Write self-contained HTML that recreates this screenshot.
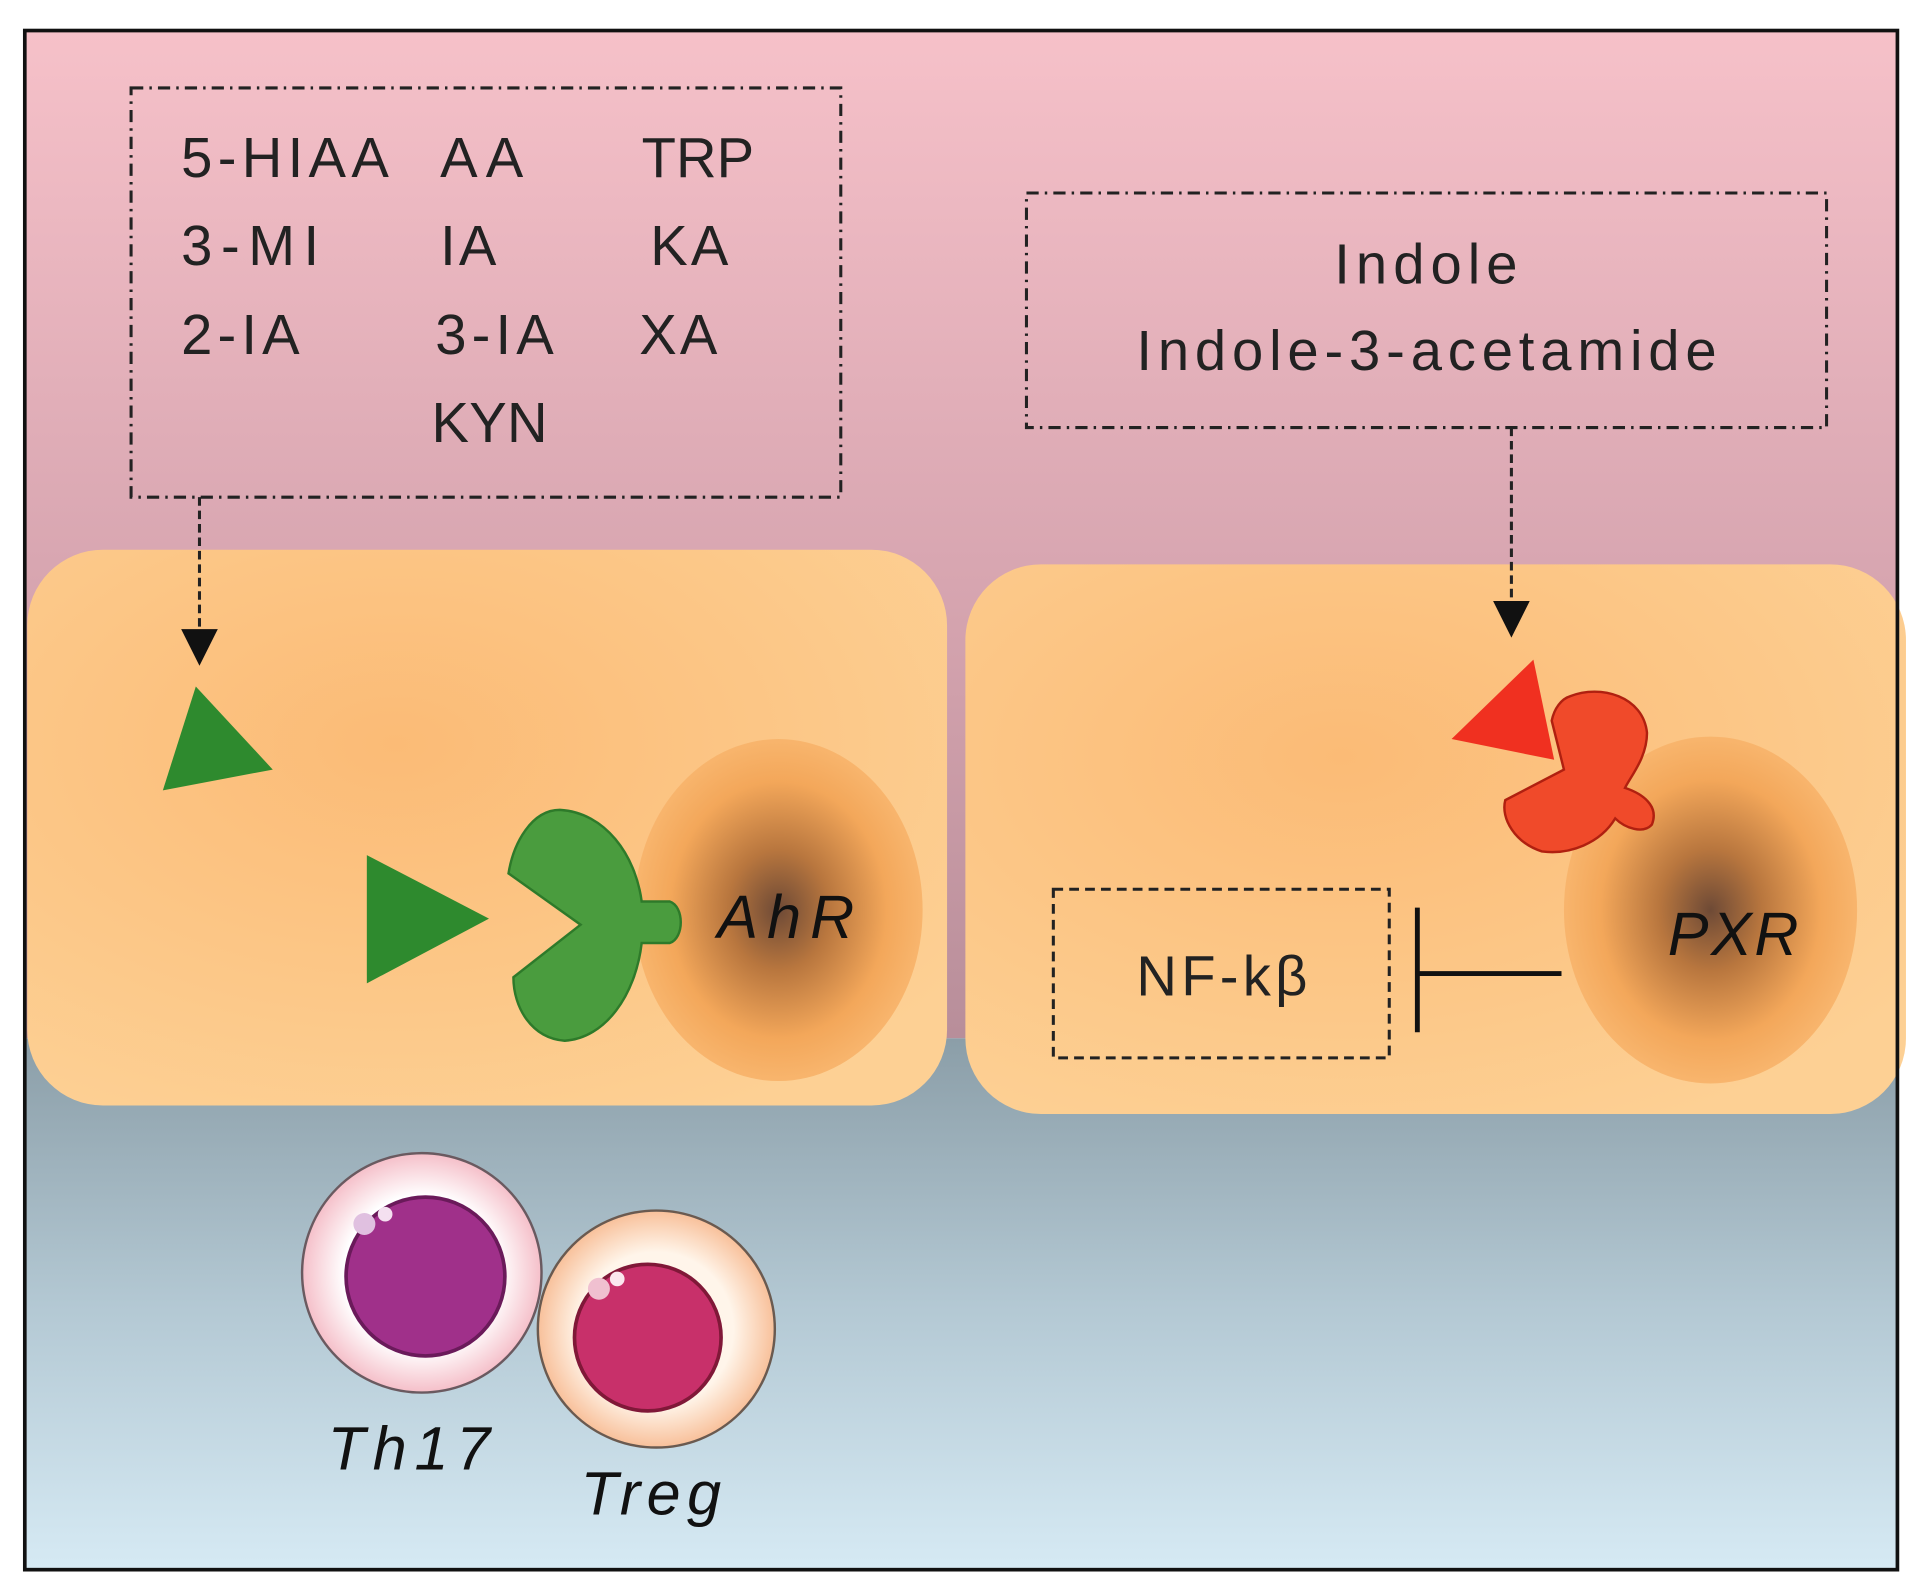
<!DOCTYPE html>
<html><head><meta charset="utf-8"><style>html,body{margin:0;padding:0;background:#fff}svg{display:block}</style></head>
<body>
<svg width="1910" height="1588" viewBox="0 0 1563 1300" xmlns="http://www.w3.org/2000/svg" font-family="Liberation Sans, DejaVu Sans, sans-serif">
<defs>
<linearGradient id="bgTop" x1="0" y1="0" x2="0" y2="1">
<stop offset="0" stop-color="#f6c1c9"/><stop offset="0.55" stop-color="#d7a5b0"/><stop offset="1" stop-color="#b88e9a"/></linearGradient>
<linearGradient id="bgBot" x1="0" y1="0" x2="0" y2="1">
<stop offset="0" stop-color="#8b9ea8"/><stop offset="0.5" stop-color="#b3c8d3"/><stop offset="1" stop-color="#d6eaf4"/></linearGradient>
<radialGradient id="cell" cx="0.4" cy="0.35" r="0.75">
<stop offset="0" stop-color="#fbbb76"/><stop offset="1" stop-color="#fdd094"/></radialGradient>
<radialGradient id="nuc" cx="0.5" cy="0.5" r="0.5">
<stop offset="0" stop-color="#6e4a36"/><stop offset="0.35" stop-color="#b8763e"/><stop offset="0.75" stop-color="#f3a75a"/><stop offset="1" stop-color="#f8b56d"/></radialGradient>
<radialGradient id="th" cx="0.5" cy="0.5" r="0.5"><stop offset="0.65" stop-color="#fff"/><stop offset="1" stop-color="#f5bfc9"/></radialGradient>
<radialGradient id="tr" cx="0.5" cy="0.5" r="0.5"><stop offset="0.65" stop-color="#fff5ea"/><stop offset="1" stop-color="#f8c09a"/></radialGradient>
</defs>
<rect x="20" y="25" width="1533" height="825" fill="url(#bgTop)"/>
<rect x="20" y="850" width="1533" height="435" fill="url(#bgBot)"/>
<rect x="22" y="450" width="753" height="455" rx="62" fill="url(#cell)"/>
<rect x="790" y="462" width="770" height="450" rx="62" fill="url(#cell)"/>
<ellipse cx="637" cy="745" rx="118" ry="140" fill="url(#nuc)"/>
<ellipse cx="1400" cy="745" rx="120" ry="142" fill="url(#nuc)"/>
<rect x="20" y="25" width="1533" height="1260" fill="none" stroke="#111" stroke-width="3"/>
<g fill="none" stroke="#222" stroke-width="2.5" stroke-dasharray="10,5,2,5">
<rect x="107" y="72" width="581" height="335"/>
<rect x="840" y="158" width="655" height="192"/>
</g>
<g font-size="46" fill="#222" lengthAdjust="spacingAndGlyphs">
<text x="148" y="145" textLength="170">5-HIAA</text><text x="360" y="145" textLength="68">AA</text><text x="525" y="145" textLength="92">TRP</text>
<text x="148" y="217" textLength="113">3-MI</text><text x="360" y="217" textLength="46">IA</text><text x="532" y="217" textLength="64">KA</text>
<text x="148" y="290" textLength="97">2-IA</text><text x="356" y="290" textLength="97">3-IA</text><text x="523" y="290" textLength="64">XA</text>
<text x="353" y="362" textLength="95">KYN</text>
<text x="1092" y="232" textLength="150">Indole</text>
<text x="930" y="303" textLength="475">Indole-3-acetamide</text>
<text x="930" y="815" textLength="140">NF-kβ</text>
</g>
<g stroke="#222" stroke-width="2.5" stroke-dasharray="7,4">
<line x1="163" y1="407" x2="163" y2="515"/><line x1="1237" y1="350" x2="1237" y2="492"/></g>
<polygon points="148,515 178,515 163,545" fill="#111"/>
<polygon points="1222,492 1252,492 1237,522" fill="#111"/>
<polygon points="133,647 160,562 223,630" fill="#2e8a2e"/>
<polygon points="300,700 300,805 400,752" fill="#2e8a2e"/>
<path d="M458,663 C495,665 520,700 525,738 L548,738 C560,742 560,768 548,772 L525,772 C520,815 495,850 462,852 C435,850 420,825 420,800 L475,757 L416,715 C420,690 435,663 458,663 Z" fill="#4a9c3e" stroke="#2e7a2a" stroke-width="2"/>
<polygon points="1188,605 1255,540 1272,622" fill="#f03020"/>
<path d="M1285,570 C1310,560 1345,570 1348,600 C1348,620 1335,635 1330,645 C1345,650 1358,660 1352,675 C1345,683 1330,678 1322,670 C1310,690 1285,700 1262,697 C1240,690 1228,670 1232,655 L1280,630 L1270,590 C1272,580 1278,572 1285,570 Z" fill="#f04a2a" stroke="#b02010" stroke-width="2"/>
<rect x="862" y="728" width="275" height="138" fill="none" stroke="#222" stroke-width="2.5" stroke-dasharray="8,5"/>
<line x1="1160" y1="797" x2="1278" y2="797" stroke="#111" stroke-width="4"/>
<line x1="1160" y1="743" x2="1160" y2="845" stroke="#111" stroke-width="4"/>
<g font-size="50" font-style="italic" fill="#111" lengthAdjust="spacingAndGlyphs">
<text x="587" y="768" textLength="112">AhR</text>
<text x="1365" y="782" textLength="107">PXR</text>
<text x="268" y="1203" textLength="133">Th17</text>
<text x="475" y="1240" textLength="115">Treg</text>
</g>
<circle cx="345" cy="1042" r="98" fill="url(#th)" stroke="#6a5a60" stroke-width="2"/>
<circle cx="348" cy="1045" r="65" fill="#a0308a" stroke="#6a1a5a" stroke-width="3"/>
<circle cx="298" cy="1002" r="9" fill="#e0c0e0"/><circle cx="315" cy="994" r="6" fill="#f4e0f0"/>
<circle cx="537" cy="1088" r="97" fill="url(#tr)" stroke="#6a5a50" stroke-width="2"/>
<circle cx="530" cy="1095" r="60" fill="#c8306a" stroke="#801838" stroke-width="3"/>
<circle cx="490" cy="1055" r="9" fill="#f0c0d0"/><circle cx="505" cy="1047" r="6" fill="#fbe6ee"/>
</svg>
</body></html>
